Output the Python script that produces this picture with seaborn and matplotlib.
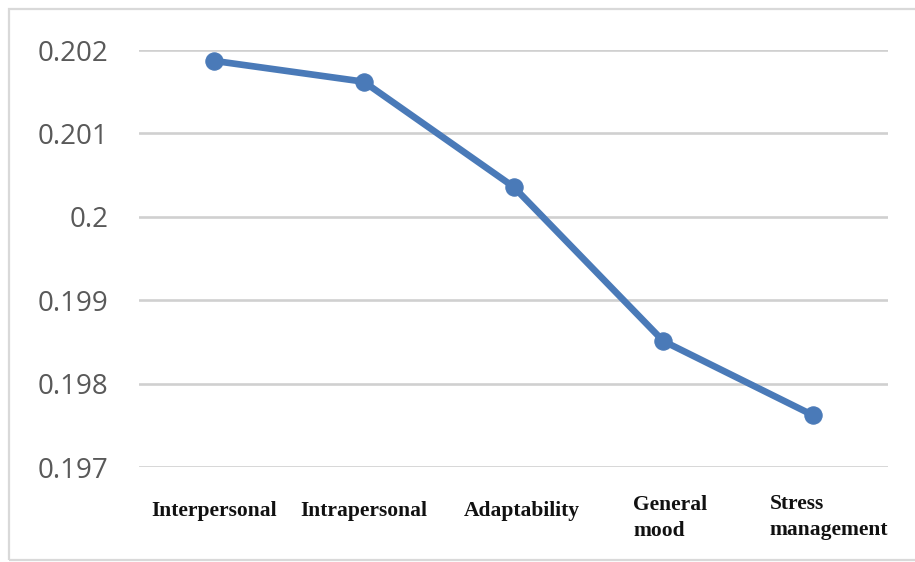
import matplotlib
matplotlib.use("Agg")
import matplotlib.pyplot as plt
import matplotlib.transforms as mtransforms
from matplotlib.patches import Rectangle
import seaborn as sns
import pandas as pd

# Emotional intelligence component weights
categories = ["Interpersonal", "Intrapersonal", "Adaptability",
              "General\nmood", "Stress\nmanagement"]
weights = [0.20187, 0.20162, 0.20036, 0.19851, 0.19762]
y_ticks = [0.197, 0.198, 0.199, 0.2, 0.201, 0.202]
y_tick_labels = ["0.197", "0.198", "0.199", "0.2", "0.201", "0.202"]

df = pd.DataFrame({"component": range(len(categories)), "weight": weights})

sns.set_style("white")
plt.rcParams["font.family"] = ["Open Sans", "DejaVu Sans"]

fig = plt.figure(figsize=(9.15, 5.62), dpi=100)
ax = fig.add_axes([139 / 915, 1 - 467 / 562, (888 - 139) / 915, (467 - 50) / 562])

line_color = "#4a7ab8"
sns.lineplot(data=df, x="component", y="weight", ax=ax, color=line_color,
             linewidth=4.8, marker="o", markersize=12.5,
             markeredgecolor=line_color, markerfacecolor=line_color)

ax.set_xlim(-0.5, len(categories) - 0.5)
ax.set_ylim(0.197, 0.202)
ax.set_yticks(y_ticks)
ax.set_yticklabels(y_tick_labels)
ax.yaxis.grid(True, color="#d0d0d0", linewidth=1.9)
ax.set_axisbelow(True)
for s in ax.spines.values():
    s.set_visible(False)

ax.tick_params(axis="y", length=0, pad=22, labelsize=20, labelcolor="#595959")
ax.tick_params(axis="x", length=0, pad=32)
ax.set_xticks(range(len(categories)))
ax.set_xticklabels(categories)
for lab in ax.get_xticklabels():
    lab.set_fontfamily(["Liberation Serif", "DejaVu Serif"])
    lab.set_fontweight("bold")
    lab.set_fontsize(15.5)
    lab.set_color("#111111")
    lab.set_va("center")
    lab.set_multialignment("left")
    lab.set_linespacing(1.4)
# wrapped labels sit slightly right of and below their category centre
shifts = [(0, 0), (0, 0), (8, 0), (7, -7), (16, -6)]
for lab, (dx, dy) in zip(ax.get_xticklabels(), shifts):
    lab.set_transform(lab.get_transform() +
                      mtransforms.ScaledTranslation(dx / 100, dy / 100, fig.dpi_scale_trans))

ax.set_xlabel("")
ax.set_ylabel("")

# light chart-area frame
fig.add_artist(Rectangle((9 / 915, 1 - 560 / 562), 1.0, (560 - 9) / 562,
                         transform=fig.transFigure, fill=False,
                         edgecolor="#d9d9d9", linewidth=1.6))

fig.savefig("out.png", dpi=100)
